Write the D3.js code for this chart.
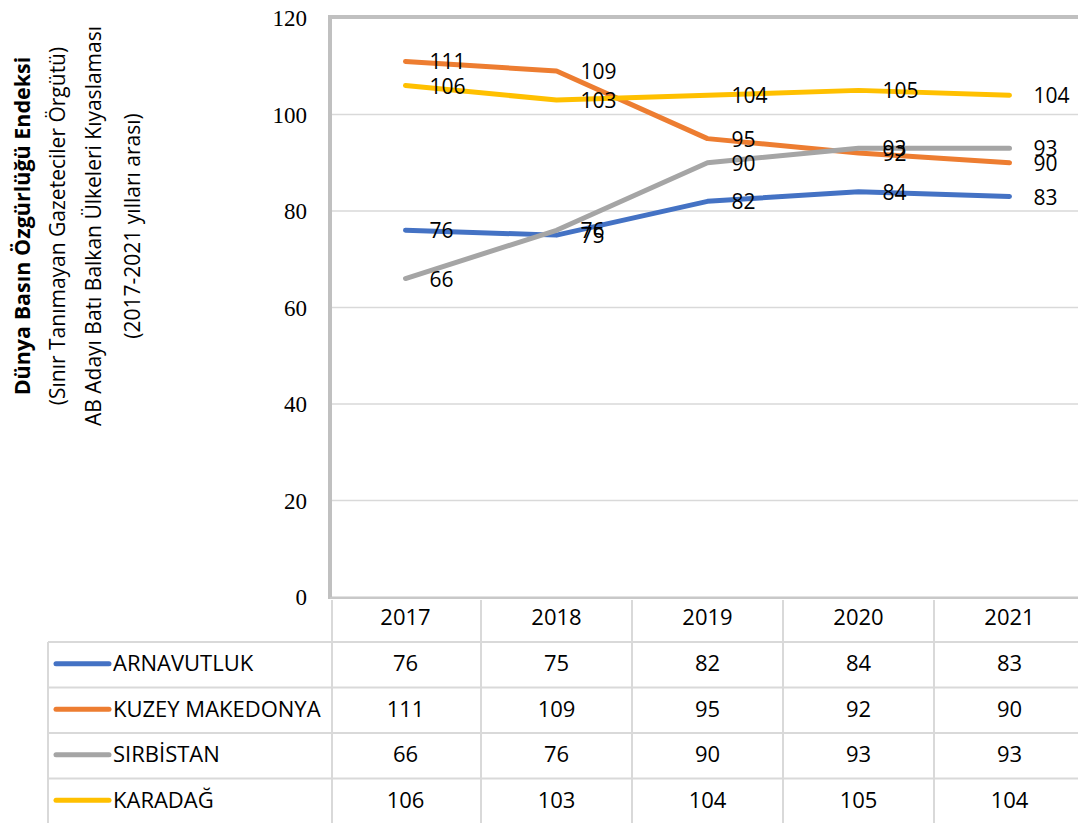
<!DOCTYPE html>
<html>
<head>
<meta charset="utf-8">
<script src="https://d3js.org/d3.v7.min.js"></script>
<style>
  body { margin: 0; background: #fff; }
  svg { display: block; }
</style>
</head>
<body>
<div id="chart"></div>
<script>
// chart data
const years = ["2017", "2018", "2019", "2020", "2021"];
const countries = ["ARNAVUTLUK", "KUZEY MAKEDONYA", "SIRBİSTAN", "KARADAĞ"];
const arnavutluk = [76, 75, 82, 84, 83];
const kuzeyMakedonya = [111, 109, 95, 92, 90];
const sirbistan = [66, 76, 90, 93, 93];
const karadag = [106, 103, 104, 105, 104];
const yTicks = [0, 20, 40, 60, 80, 100, 120];
const titleLines = [
    "Dünya Basın Özgürlüğü Endeksi",
    "(Sınır Tanımayan Gazeteciler Örgütü)",
    "AB Adayı Batı Balkan Ülkeleri Kıyaslaması",
    "(2017-2021 yılları arası)"
];

const colors = ["#4472C4", "#ED7D31", "#A5A5A5", "#FFC000"];
const series = [arnavutluk, kuzeyMakedonya, sirbistan, karadag];

const width = 1078, height = 823;
const plotLeft = 330, plotTop = 18, plotBottom = 597, plotRight = 1085;

const svg = d3.select("#chart")
    .append("svg")
    .attr("width", width)
    .attr("height", height);

const x = d3.scaleBand().domain(years).range([plotLeft, plotRight]).padding(0);
const y = d3.scaleLinear().domain([0, 120]).range([plotBottom, plotTop]);
const cx = d => x(d) + x.bandwidth() / 2;

// gridlines
svg.append("g")
    .selectAll("line")
    .data(yTicks)
    .join("line")
    .attr("x1", plotLeft)
    .attr("x2", width)
    .attr("y1", d => y(d))
    .attr("y2", d => y(d))
    .attr("stroke", "#d9d9d9")
    .attr("stroke-width", 1.5);

// plot area border (thick left + top, like the original)
svg.append("line")
    .attr("x1", plotLeft).attr("x2", width)
    .attr("y1", plotTop - 1).attr("y2", plotTop - 1)
    .attr("stroke", "#c0c0c0").attr("stroke-width", 4);
svg.append("line")
    .attr("x1", plotLeft).attr("x2", plotLeft)
    .attr("y1", plotTop - 3).attr("y2", plotBottom + 2)
    .attr("stroke", "#c0c0c0").attr("stroke-width", 4);
svg.append("line")
    .attr("x1", plotLeft).attr("x2", width)
    .attr("y1", plotBottom + 1).attr("y2", plotBottom + 1)
    .attr("stroke", "#c8c8c8").attr("stroke-width", 2);

// y tick labels
svg.append("g")
    .selectAll("text")
    .data(yTicks)
    .join("text")
    .attr("x", 307)
    .attr("y", d => y(d))
    .attr("dy", "0.35em")
    .attr("text-anchor", "end")
    .style("font-family", "'Liberation Serif', serif")
    .style("font-size", "23px")
    .attr("fill", "#000")
    .text(d => d);

// y axis title (rotated)
const titleX = [21, 57, 93, 132];
titleLines.forEach((t, i) => {
    svg.append("text")
        .attr("transform", `translate(${titleX[i]},226) rotate(-90)`)
        .attr("text-anchor", "middle")
        .attr("dominant-baseline", "central")
        .style("font-family", "'Open Sans', sans-serif")
        .style("font-size", i === 0 ? "21.5px" : "21px")
        .style("font-weight", i === 0 ? "bold" : "normal")
        .attr("fill", "#000")
        .text(t);
});

// lines
const line = d3.line()
    .x((d, i) => cx(years[i]))
    .y(d => y(d));

svg.append("g")
    .selectAll("path")
    .data(series)
    .join("path")
    .attr("d", d => line(d))
    .attr("fill", "none")
    .attr("stroke", (d, i) => colors[i])
    .attr("stroke-width", 5)
    .attr("stroke-linecap", "round")
    .attr("stroke-linejoin", "round");

// data labels
series.forEach(vals => {
    svg.append("g")
        .selectAll("text")
        .data(vals)
        .join("text")
        .attr("x", (d, i) => cx(years[i]) + 24)
        .attr("y", d => y(d))
        .attr("dy", "0.38em")
        .style("font-family", "'Open Sans', sans-serif")
        .style("font-size", "21px")
        .attr("fill", "#000")
        .text(d => d);
});

// data table under the chart
const tableLeft = 48, headTop = 600, rowTop = 642, rowH = 45.5;
const grid = svg.append("g").attr("stroke", "#d9d9d9").attr("stroke-width", 2);

// horizontal rules
d3.range(countries.length + 1).forEach(r => {
    grid.append("line")
        .attr("x1", tableLeft).attr("x2", width)
        .attr("y1", rowTop + r * rowH).attr("y2", rowTop + r * rowH);
});
// vertical rules
grid.append("line")
    .attr("x1", tableLeft).attr("x2", tableLeft)
    .attr("y1", rowTop).attr("y2", height);
years.forEach((yr, i) => {
    grid.append("line")
        .attr("x1", x(yr) + (i === 0 ? 2 : 0)).attr("x2", x(yr) + (i === 0 ? 2 : 0))
        .attr("y1", headTop).attr("y2", height);
});

const tableFont = "'Open Sans', sans-serif";
const tableSize = "22px";

// header years
svg.append("g")
    .selectAll("text")
    .data(years)
    .join("text")
    .attr("x", d => cx(d))
    .attr("y", 617)
    .attr("dy", "0.35em")
    .attr("text-anchor", "middle")
    .style("font-family", tableFont)
    .style("font-size", tableSize)
    .attr("fill", "#000")
    .text(d => d);

// rows
countries.forEach((c, r) => {
    const my = rowTop + r * rowH + rowH / 2 - 1;
    svg.append("line")
        .attr("x1", 56).attr("x2", 109)
        .attr("y1", my).attr("y2", my)
        .attr("stroke", colors[r])
        .attr("stroke-width", 5)
        .attr("stroke-linecap", "round");
    svg.append("text")
        .attr("x", 113)
        .attr("y", my)
        .attr("dy", "0.35em")
        .style("font-family", tableFont)
        .style("font-size", tableSize)
        .attr("fill", "#000")
        .text(c);
    svg.append("g")
        .selectAll("text")
        .data(series[r])
        .join("text")
        .attr("x", (d, i) => cx(years[i]))
        .attr("y", my)
        .attr("dy", "0.35em")
        .attr("text-anchor", "middle")
        .style("font-family", tableFont)
        .style("font-size", tableSize)
        .attr("fill", "#000")
        .text(d => d);
});
</script>
</body>
</html>
